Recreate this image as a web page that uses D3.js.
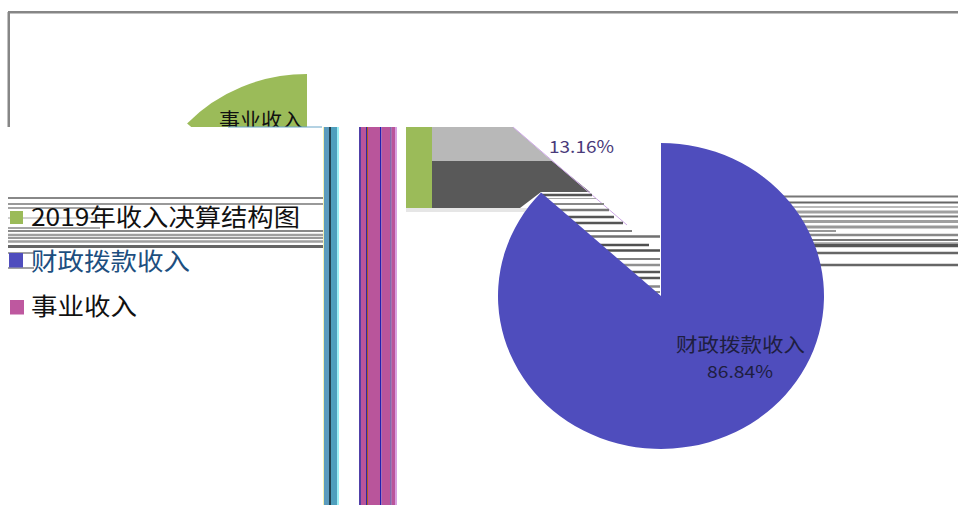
<!DOCTYPE html>
<html><head><meta charset="utf-8">
<script src="https://cdn.jsdelivr.net/npm/d3@7/dist/d3.min.js"></script>
<style>html,body{margin:0;padding:0;background:#fff;overflow:hidden}svg{display:block}
text{font-family:"Noto Sans CJK SC","Liberation Sans",sans-serif;}</style></head>
<body><svg id="c" width="958" height="505"></svg>
<script>
const chartTitle = "2019年收入决算结构图";
const categories = ["财政拨款收入", "事业收入"];
const values = [86.84, 13.16];
const valueLabels = ["86.84%", "13.16%"];
const colors = ["#4f4dbd", "#9bbb59"];
const legendColors = ["#4f4dbd", "#be589f"];

(function(){
const W = 958, H = 505;
const svg = d3.select("#c");
const defs = svg.append("defs");
defs.append("clipPath").attr("id","topClip").append("rect").attr("x",0).attr("y",0).attr("width",W).attr("height",127);
defs.append("clipPath").attr("id","remnantClip").append("rect").attr("x",432).attr("y",127).attr("width",80).attr("height",2);

const pieGen = d3.pie().sort(null).value(d => d)(values);
const R = 153, RX = 163;
const arc = d3.arc().innerRadius(0).outerRadius(R);

function hline(g, y, x1, x2, color, w){
  g.append("rect").attr("x",x1).attr("y",y-w/2).attr("width",x2-x1).attr("height",w).attr("fill",color);
}
function label(g, t, x, y, len, size, fill, anchor){
  return g.append("text").attr("x",x).attr("y",y).attr("font-size",size).attr("fill",fill)
    .attr("text-anchor",anchor||"start").attr("textLength",len).attr("lengthAdjust","spacingAndGlyphs").text(t);
}

// frame
svg.append("rect").attr("x",8).attr("y",11).attr("width",W-8).attr("height",2.5).attr("fill","#868686");
svg.append("rect").attr("x",7.5).attr("y",12).attr("width",2.5).attr("height",115).attr("fill","#868686");

// displaced green slice, cut off at the tear
const upper = svg.append("g").attr("clip-path","url(#topClip)");
upper.append("g").attr("transform",`translate(307,227) scale(${RX/R},1)`)
  .append("path").attr("d",arc(pieGen[1])).attr("fill",colors[1]);
label(upper, categories[1], 219, 128, 84, 20, "#111");
hline(svg,127,228,322,"#6aa6c8",1);

// left stripes
const leftG = svg.append("g");
[[198,"#888",2],[204,"#999",2],[231,"#888",2],[235,"#a0a0a0",2.5],[238,"#999",2],[241.5,"#a0a0a0",2.5],[246.5,"#666",3]]
  .forEach(s => hline(leftG,s[0],8,323,s[1],s[2]));
[[208,"#888",1.5],[218,"#a0a0a0",1],[228,"#888",1.5]].forEach(s => hline(leftG,s[0],8,100,s[1],s[2]));
[[253,"#444",1],[268,"#444",1]].forEach(s => hline(leftG,s[0],8,34,s[1],s[2]));

// vertical bands
const bands = svg.append("g");
[[323,1,"#f4f0b0"],[324,5,"#5b9bbd"],[329,2,"#23424f"],[331,6,"#4f9fbd"],[337,2,"#9df0f5"],
 [359,2,"#5040a8"],[361,5,"#b9559b"],[366,1,"#2a2aa0"],[367,1,"#b06020"],[368,12,"#b9559b"],[380,1.5,"#2020b0"],
 [381.5,9,"#b9559b"],[390.5,1,"#2a2a90"],[391.5,3.5,"#b9559b"],[395,2,"#d7a0e0"]]
 .forEach(b => bands.append("rect").attr("x",b[0]).attr("y",127).attr("width",b[1]).attr("height",H-127).attr("fill",b[2]));

// torn bar block
svg.append("rect").attr("x",406).attr("y",208).attr("width",130).attr("height",4).attr("fill","#e6e6e6");
svg.append("rect").attr("x",406).attr("y",127).attr("width",26).attr("height",81).attr("fill",colors[1]);
svg.append("path").attr("d","M432,127H513L552,161H432Z").attr("fill","#b8b8b8");
svg.append("path").attr("d","M432,161H552L590,192H541L520,208H432Z").attr("fill","#595959");
svg.append("path").attr("d","M513,127L627,225").attr("stroke","#cfa8e8").attr("stroke-width",1).attr("fill","none");
label(svg.append("g").attr("clip-path","url(#remnantClip)"), categories[1], 436, 148, 84, 20, "#111");

// wedge stripes
const wedge = svg.append("g");
[[195,592,"#555",2.5],[198.5,596,"#a8a8a8",1],[204,604,"#888",2],[210,609,"#777",2.5],[217,614,"#555",2.5],[223,623,"#555",2.5],
 [231,632,"#808080",2],[236.5,660,"#707070",2.5],[245,649,"#505050",2.5],[250.5,660,"#505050",2.5],[259,660,"#808080",2],[265,660,"#909090",2.5],
 [272,660,"#555",2.5],[278,660,"#555",2.5],[286.5,660,"#888",2.5],[292,660,"#888",2]]
 .forEach(s => hline(wedge,s[0],541,s[1],s[2],s[3]));

// right stripes
const rightG = svg.append("g");
[[196.5,"#777",2],[202.5,"#666",2],[207,"#bbb",2],[212,"#a0a0a0",3],[216.5,"#777",2],[221.5,"#a0a0a0",3],[227,"#999",3],
 [235,"#888",2.5],[240,"#777",2],[243,"#bbb",2],[245.5,"#555",3.5],[253,"#666",2.5],[265,"#666",2.5]]
 .forEach(s => hline(rightG,s[0],700,W,s[1],s[2]));
hline(rightG,231,700,836,"#777",1.5);

// main pie
svg.append("g").attr("transform",`translate(661,296) scale(${RX/R},1)`)
  .append("path").attr("d",arc(pieGen[0])).attr("fill",colors[0]);

// legend
svg.append("rect").attr("x",10).attr("y",211).attr("width",13).attr("height",13).attr("fill",colors[1]);
label(svg,chartTitle,31,226,269,24,"#111");
legendColors.forEach((c,i)=>{
  const y = [253,300][i];
  svg.append("rect").attr("x",9+i).attr("y",y).attr("width",14).attr("height",14.5).attr("fill",c);
});
categories.forEach((t,i)=>{
  label(svg,t,31,[270,315][i],[159,106][i],24,i==0?"#1d4f80":"#111");
});

// slice labels
label(svg,categories[0],676,352,129,19.5,"#1e1e40");
label(svg,valueLabels[0],707,378,66,17,"#1e1e40");
label(svg,valueLabels[1],549,153,65,17,"#4a3a7a");
})();
</script></body></html>
